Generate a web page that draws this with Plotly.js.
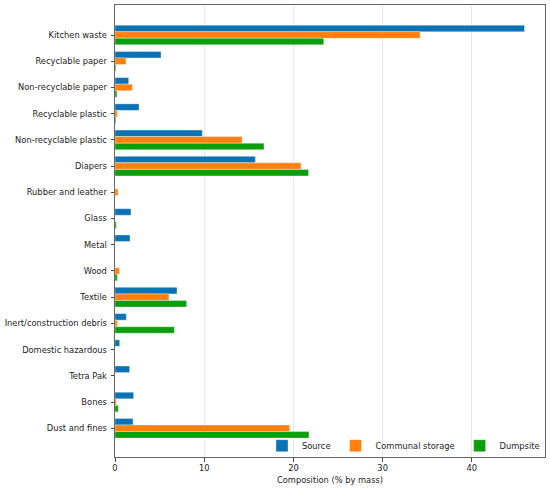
<!DOCTYPE html>
<html>
<head>
<meta charset="utf-8">
<script src="https://cdn.plot.ly/plotly-3.0.1.min.js"></script>
<style>html,body{margin:0;padding:0;background:#fff;}#chart{width:550px;height:491px;}</style>
</head>
<body>
<div id="chart"></div>
<script>
const categories = ["Kitchen waste","Recyclable paper","Non-recyclable paper","Recyclable plastic","Non-recyclable plastic","Diapers","Rubber and leather","Glass","Metal","Wood","Textile","Inert/construction debris","Domestic hazardous","Tetra Pak","Bones","Dust and fines"];
const sourceVals = [45.9, 5.16, 1.53, 2.69, 9.79, 15.73, 0.0, 1.79, 1.68, 0.0, 6.95, 1.27, 0.52, 1.64, 2.09, 2.02];
const communalVals = [34.2, 1.23, 1.94, 0.26, 14.24, 20.85, 0.34, 0.0, 0.0, 0.49, 6.05, 0.26, 0.0, 0.0, 0.15, 19.58];
const dumpsiteVals = [23.4, 0.1, 0.22, 0.1, 16.7, 21.7, 0.0, 0.15, 0.0, 0.26, 8.03, 6.65, 0.0, 0.0, 0.37, 21.75];
const seriesNames = ["Source","Communal storage","Dumpsite"];
const xTicks = [0,10,20,30,40];

const colors = ["#0a72b5","#ff800e","#0c9e0c"];
const vals = [sourceVals, communalVals, dumpsiteVals];
const traces = vals.map((v,i)=>({
  type:'bar', orientation:'h', name:seriesNames[i], x:v, y:categories,
  marker:{color:colors[i], line:{width:0.6, color:'rgba(255,255,255,0.6)'}}
}));
const font = {family:'DejaVu Sans, sans-serif', size:8.3, color:'#222'};
const layout = {
  width:550, height:491,
  margin:{l:115, r:5, t:5, b:34},
  barmode:'group', bargap:0.25, bargroupgap:0,
  font:font,
  paper_bgcolor:'#fff', plot_bgcolor:'#fff',
  showlegend:true,
  legend:{orientation:'h', x:1, xanchor:'right', y:0.025, yanchor:'middle', bgcolor:'rgba(0,0,0,0)', font:font, itemwidth:30, traceorder:'normal'},
  xaxis:{range:[0,48.2], tickvals:xTicks, ticktext:xTicks.map(String), showgrid:true, gridcolor:'#e8e8e8', gridwidth:1,
    zeroline:false, showline:true, mirror:true, linecolor:'#666', linewidth:1, ticks:'outside', ticklen:3.5, tickcolor:'#444',
    title:{text:'Composition (% by mass)', font:font, standoff:4}},
  yaxis:{type:'category', range:[16.095,-1.145], showgrid:false, zeroline:false, showline:true, mirror:true, linecolor:'#666', linewidth:1,
    ticks:'outside', ticklen:3.5, tickcolor:'#444', ticklabelstandoff:2}
};
Plotly.newPlot('chart', traces, layout, {displayModeBar:false, staticPlot:true});
</script>
</body>
</html>
